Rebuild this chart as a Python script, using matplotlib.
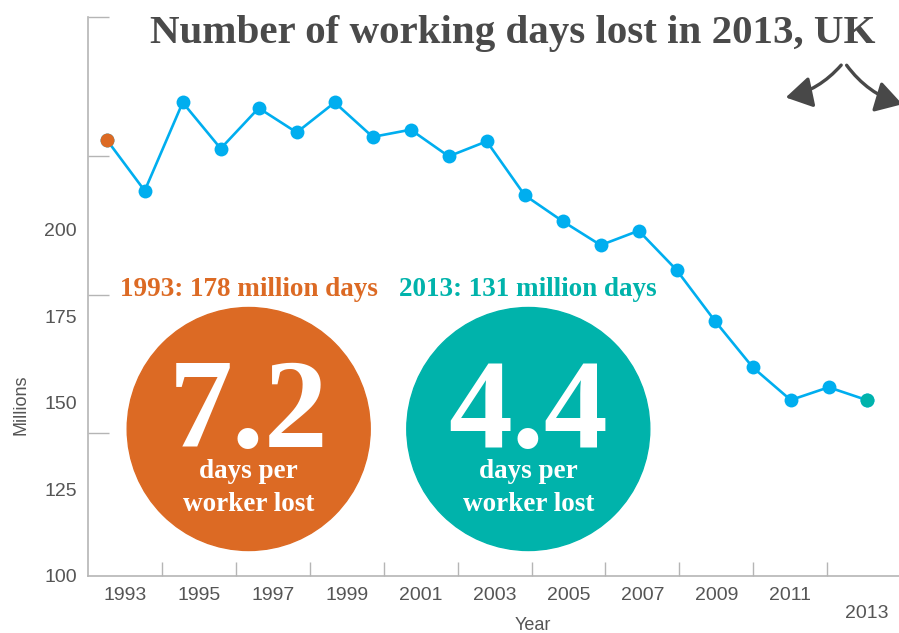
import numpy as np
import matplotlib
matplotlib.use("Agg")
import matplotlib.pyplot as plt
from matplotlib.patches import Circle, FancyArrowPatch

# Working days lost each year (millions)
years = list(range(1993, 2014))
days_lost = [177.9, 168.7, 184.6, 176.3, 183.6, 179.2, 184.6, 178.4, 179.7, 174.9,
             177.6, 167.9, 163.2, 158.9, 161.5, 154.4, 145.3, 136.9, 131.0, 133.3, 131.0]

year_labels = ['1993', '1995', '1997', '1999', '2001', '2003', '2005', '2007', '2009', '2011']
y_labels = ['100', '125', '150', '175', '200']

orange = '#dc6a24'
teal = '#00b3ab'
blue = '#00aeef'
grey_txt = '#555555'
axis_col = '#b5b5b5'
serif = 'Liberation Serif'
sans = 'Liberation Sans'

fig = plt.figure(figsize=(8.99, 6.33), dpi=100)
ax = fig.add_axes([88/899, 57/633, 811/899, 559/633])

ax.plot(years, days_lost, color=blue, lw=1.9, marker='o', ms=10,
        markeredgewidth=0, zorder=3, clip_on=False)
ax.plot(years[0], days_lost[0], 'o', color=orange, ms=10, markeredgewidth=0,
        zorder=4, clip_on=False)
ax.plot(years[-1], days_lost[-1], 'o', color=teal, ms=10, markeredgewidth=0,
        zorder=4, clip_on=False)

ax.set_xlim(1992.508, 2013.85)
ax.set_ylim(100, 200)

# tick marks and labels sit on their own (odd) grid in the original chart
xt = 1994.46 + 1.944 * np.arange(len(year_labels))
ax.set_xticks(xt)
ax.set_xticklabels([])
ax.set_xticks(xt - 0.972, minor=True)
ax.set_xticklabels(year_labels, minor=True)

ax.set_yticks([125, 150, 175, 200])
ax.set_yticklabels([])
ax.set_yticks(99.3 + 15.6 * np.arange(len(y_labels)), minor=True)
ax.set_yticklabels(y_labels, minor=True)

ax.tick_params(axis='x', which='major', direction='in', length=10, width=1, color=axis_col)
ax.tick_params(axis='y', which='major', direction='in', length=15, width=1, color=axis_col)
ax.tick_params(which='minor', length=0, labelsize=14, labelcolor=grey_txt)
ax.tick_params(axis='x', which='minor', pad=8)
ax.tick_params(axis='y', which='minor', pad=8)
for lab in ax.get_xticklabels(minor=True) + ax.get_yticklabels(minor=True):
    lab.set_fontfamily(sans)

for s in ['top', 'right']:
    ax.spines[s].set_visible(False)
for s in ['left', 'bottom']:
    ax.spines[s].set_color(axis_col)
    ax.spines[s].set_linewidth(1.2)

ax.annotate('2013', xy=(2013, 0), xycoords=('data', 'axes fraction'),
            xytext=(0, -27), textcoords='offset points', ha='center', va='center',
            fontsize=14, color=grey_txt, fontfamily=sans, annotation_clip=False)

ax.set_ylabel('Millions', fontsize=13, color=grey_txt, fontfamily=sans)
ax.yaxis.set_label_coords(-0.072, 0.306)
ax.set_xlabel('Year', fontsize=13, color=grey_txt, fontfamily=sans)
ax.xaxis.set_label_coords(0.549, -0.074)

# title
fig.text(513/899, 1 - 34/633, 'Number of working days lost in 2013, UK',
         ha='center', va='center', fontsize=29.5, fontweight='bold',
         color='#4a4a4a', fontfamily=serif)

# curved double arrow, top right
arrow_kw = dict(arrowstyle='-|>,head_length=1.0,head_width=0.6', color='#484848', lw=2.4,
                transform=None, mutation_scale=16)
fig.add_artist(FancyArrowPatch((843, 633 - 63), (783, 633 - 98),
                               connectionstyle='arc3,rad=-0.18', **arrow_kw))
fig.add_artist(FancyArrowPatch((845, 633 - 63), (905, 633 - 105),
                               connectionstyle='arc3,rad=0.18', **arrow_kw))

# circles with the per-worker figures
panels = [(248.7, orange, '1993: 178 million days', '7.2'),
          (528.3, teal, '2013: 131 million days', '4.4')]
for cx, col, head, big in panels:
    cy = 633 - 429
    fig.add_artist(Circle((cx, cy), 121.5, transform=None, color=col, zorder=1))
    fig.text(cx / 899, 1 - 296/633, head, ha='center', va='baseline', fontsize=19.5,
             fontweight='bold', color=col, fontfamily=serif)
    fig.text(cx / 899, 1 - 447/633, big, ha='center', va='baseline', fontsize=92,
             fontweight='bold', color='white', fontfamily=serif)
    fig.text(cx / 899, 1 - 478/633, 'days per', ha='center', va='baseline', fontsize=19.5,
             fontweight='bold', color='white', fontfamily=serif)
    fig.text(cx / 899, 1 - 511/633, 'worker lost', ha='center', va='baseline', fontsize=19.5,
             fontweight='bold', color='white', fontfamily=serif)

fig.savefig('out.png', dpi=100)
